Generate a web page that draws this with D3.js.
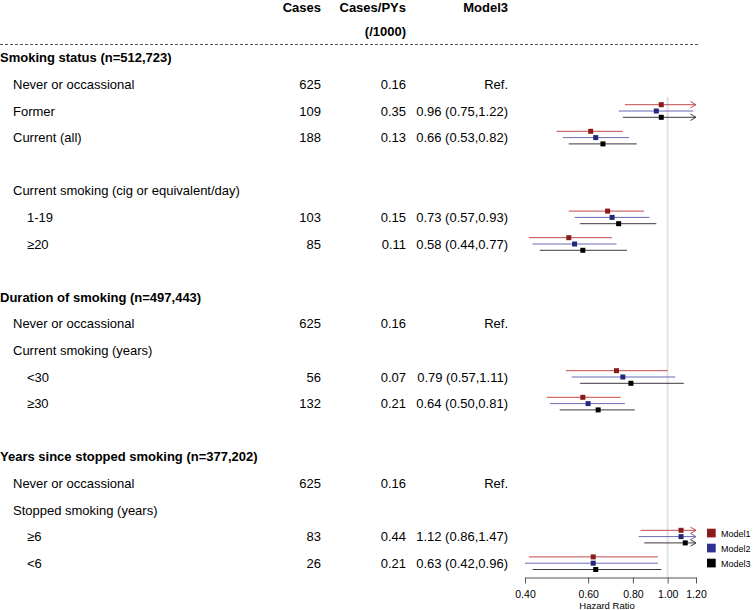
<!DOCTYPE html>
<html>
<head>
<meta charset="utf-8">
<script src="https://cdn.jsdelivr.net/npm/d3@7"></script>
<style>
  html, body { margin: 0; padding: 0; background: #fff; }
  svg { display: block; font-family: "Liberation Sans", Arial, Helvetica, sans-serif; }
</style>
</head>
<body>
<svg id="chart" width="753" height="610"></svg>
<script>
// ---------- data ----------
const headers = ["Cases", "Cases/PYs", "Model3"];
const subHeader = "(/1000)";
// row labels: [text, indent level, bold]
const labels = [
  ["Smoking status (n=512,723)", 0, true],
  ["Never or occassional", 1, false],
  ["Former", 1, false],
  ["Current (all)", 1, false],
  ["", 0, false],
  ["Current smoking (cig or equivalent/day)", 1, false],
  ["1-19", 2, false],
  ["\u226520", 2, false],
  ["", 0, false],
  ["Duration of smoking (n=497,443)", 0, true],
  ["Never or occassional", 1, false],
  ["Current smoking (years)", 1, false],
  ["<30", 2, false],
  ["\u226530", 2, false],
  ["", 0, false],
  ["Years since stopped smoking (n=377,202)", 0, true],
  ["Never or occassional", 1, false],
  ["Stopped smoking (years)", 1, false],
  ["\u22656", 2, false],
  ["<6", 2, false]
];
const cases    = ["", "625", "109", "188", "", "", "103", "85", "", "", "625", "", "56", "132", "", "", "625", "", "83", "26"];
const casesPY  = ["", "0.16", "0.35", "0.13", "", "", "0.15", "0.11", "", "", "0.16", "", "0.07", "0.21", "", "", "0.16", "", "0.44", "0.21"];
const model3Text = ["", "Ref.", "0.96 (0.75,1.22)", "0.66 (0.53,0.82)", "", "", "0.73 (0.57,0.93)", "0.58 (0.44,0.77)", "", "", "Ref.", "", "0.79 (0.57,1.11)", "0.64 (0.50,0.81)", "", "", "Ref.", "", "1.12 (0.86,1.47)", "0.63 (0.42,0.96)"];

// estimates for rows with forest marks: row index, [est, lo, hi]
const forestRows = [2, 3, 6, 7, 12, 13, 18, 19];
const model1 = [[0.96,0.76,1.25],[0.61,0.49,0.75],[0.68,0.53,0.86],[0.53,0.41,0.70],[0.72,0.52,1.00],[0.58,0.46,0.74],[1.09,0.84,1.43],[0.62,0.41,0.94]];
const model2 = [[0.93,0.73,1.18],[0.63,0.51,0.78],[0.70,0.55,0.89],[0.55,0.42,0.72],[0.75,0.54,1.05],[0.60,0.47,0.76],[1.09,0.83,1.42],[0.62,0.40,0.94]];
const model3 = [[0.96,0.75,1.22],[0.66,0.53,0.82],[0.73,0.57,0.93],[0.58,0.44,0.77],[0.79,0.57,1.11],[0.64,0.50,0.81],[1.12,0.86,1.47],[0.63,0.42,0.96]];
const modelNames = ["Model1", "Model2", "Model3"];
const tickValues = [0.40, 0.60, 0.80, 1.00, 1.20];
const axisTitle = "Hazard Ratio";

// ---------- styles ----------
const boxColors  = ["#8b1a1a", "#25287a", "#000000"];
const lineColors = ["#c24a4a", "#6a6ab8", "#3a3a3a"];
const legendColors = ["#8b1a1a", "#2e3192", "#000000"];

const svg = d3.select("#chart");
const x = d3.scaleLog().domain([0.4, 1.2]).range([525, 696]);
const y = d3.scaleLinear().domain([0, 19]).range([57.8, 563.2]);
const offsets = [-6.3, 0, 6.3];
const indentX = [0, 13, 27];
const colRight = [321, 406, 508];

// header
headers.forEach((h, i) => {
  svg.append("text").attr("x", colRight[i]).attr("y", 12)
    .attr("text-anchor", "end").attr("font-size", 13).attr("font-weight", "bold").text(h);
});
svg.append("text").attr("x", colRight[1]).attr("y", 35.5)
  .attr("text-anchor", "end").attr("font-size", 13).attr("font-weight", "bold").text(subHeader);

// dashed line
svg.append("line").attr("x1", 0).attr("x2", 698).attr("y1", 44.5).attr("y2", 44.5)
  .attr("stroke", "#555").attr("stroke-width", 1).attr("stroke-dasharray", "3,2");

// rows text
labels.forEach((l, i) => {
  const by = y(i) + 4.5;
  if (l[0]) svg.append("text").attr("x", indentX[l[1]]).attr("y", by)
    .attr("font-size", 13).attr("font-weight", l[2] ? "bold" : "normal").text(l[0]);
  if (cases[i]) svg.append("text").attr("x", colRight[0]).attr("y", by)
    .attr("text-anchor", "end").attr("font-size", 13).text(cases[i]);
  if (casesPY[i]) svg.append("text").attr("x", colRight[1]).attr("y", by)
    .attr("text-anchor", "end").attr("font-size", 13).text(casesPY[i]);
  if (model3Text[i]) svg.append("text").attr("x", colRight[2]).attr("y", by)
    .attr("text-anchor", "end").attr("font-size", 13).text(model3Text[i]);
});

// reference line at 1
svg.append("line").attr("x1", x(1)).attr("x2", x(1)).attr("y1", 97).attr("y2", 577)
  .attr("stroke", "#e2e2e2").attr("stroke-width", 2);

// forest marks
const [dMin, dMax] = x.domain();
[model1, model2, model3].forEach((model, m) => {
  model.forEach((d, j) => {
    const cy = y(forestRows[j]) + offsets[m];
    const lo = Math.max(d[1], dMin), hi = Math.min(d[2], dMax);
    svg.append("line").attr("x1", x(lo)).attr("x2", x(hi)).attr("y1", cy).attr("y2", cy)
      .attr("stroke", lineColors[m]).attr("stroke-width", 1);
    if (d[2] > dMax) {
      const tx = x(dMax);
      svg.append("path").attr("d", `M${tx - 5.5},${cy - 3.2}L${tx},${cy}L${tx - 5.5},${cy + 3.2}`)
        .attr("fill", "none").attr("stroke", lineColors[m]).attr("stroke-width", 1);
    }
    svg.append("rect").attr("x", x(d[0]) - 2.5).attr("y", cy - 2.5)
      .attr("width", 5).attr("height", 5).attr("fill", boxColors[m]);
  });
});

// axis
const axis = d3.axisBottom(x).tickValues(tickValues).tickFormat(d3.format(".2f"))
  .tickSize(6).tickSizeOuter(0);
const ag = svg.append("g").attr("transform", "translate(0,577.5)").call(axis);
ag.select(".domain").attr("stroke", "#555");
ag.selectAll(".tick line").attr("stroke", "#555");
ag.selectAll(".tick text").attr("font-size", 10.5).attr("fill", "#000")
  .attr("font-family", "'Liberation Sans', Arial, sans-serif").attr("y", 11).attr("dy", "0.9em");
svg.append("text").attr("x", 607).attr("y", 608.5).attr("text-anchor", "middle")
  .attr("font-size", 9.5).text(axisTitle);

// legend
modelNames.forEach((n, i) => {
  const ly = 533 + i * 15;
  svg.append("rect").attr("x", 707).attr("y", ly - 4.3).attr("width", 8.7).attr("height", 8.7)
    .attr("fill", legendColors[i]);
  svg.append("text").attr("x", 721).attr("y", ly + 3.5).attr("font-size", 9).text(n);
});
</script>
</body>
</html>
